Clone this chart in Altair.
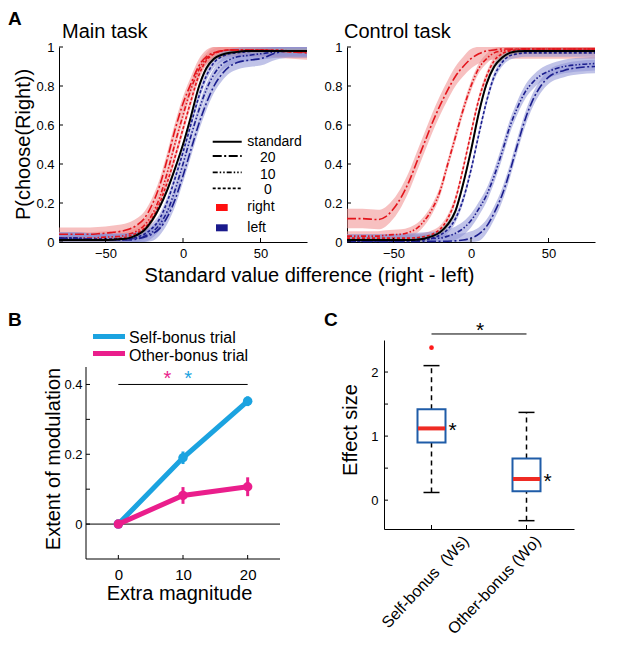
import altair as alt
import pandas as pd

FONT = "Liberation Sans"
RED = "#e3141b"
BLUE = "#1b1e8e"
RED_BAND = "#f08c8c"
BLUE_BAND = "#8c91d6"
GRAY_BAND = "#a0a0a0"
CYAN = "#1ba3e0"
MAGENTA = "#ea1e8c"
BOX_BLUE = "#1f5ca8"
MED_RED = "#ef2b24"

# ---------------- Panel A data ----------------
X = [-80, -70, -60, -55, -50, -45, -40, -35, -30, -25, -20, -15, -10, -5, 0,
     5, 10, 15, 20, 25, 30, 35, 40, 45, 50, 60, 70, 80]

main_standard = [0.01, 0.01, 0.01, 0.01, 0.01, 0.012, 0.015, 0.02, 0.035, 0.06, 0.11, 0.18, 0.27, 0.38,
                 0.50, 0.64, 0.79, 0.89, 0.94, 0.96, 0.97, 0.975, 0.98, 0.98, 0.98, 0.98, 0.98, 0.98]
main_right_20 = [0.04, 0.04, 0.04, 0.042, 0.045, 0.05, 0.055, 0.065, 0.085, 0.12, 0.19, 0.29, 0.43, 0.58,
                 0.71, 0.81, 0.90, 0.95, 0.97, 0.98, 0.985, 0.985, 0.985, 0.985, 0.985, 0.98, 0.975, 0.97]
main_right_10 = [0.02, 0.02, 0.02, 0.022, 0.025, 0.027, 0.03, 0.04, 0.055, 0.085, 0.14, 0.23, 0.36, 0.51,
                 0.65, 0.78, 0.88, 0.94, 0.97, 0.98, 0.985, 0.985, 0.985, 0.985, 0.985, 0.98, 0.975, 0.975]
main_right_0 = [0.015, 0.015, 0.015, 0.015, 0.015, 0.017, 0.02, 0.03, 0.045, 0.07, 0.12, 0.20, 0.31, 0.44,
                0.58, 0.72, 0.85, 0.93, 0.965, 0.98, 0.985, 0.985, 0.985, 0.985, 0.985, 0.985, 0.98, 0.98]
main_left_0 = [0.02, 0.02, 0.015, 0.015, 0.015, 0.015, 0.015, 0.015, 0.025, 0.04, 0.07, 0.12, 0.21, 0.33,
               0.46, 0.60, 0.74, 0.85, 0.92, 0.95, 0.965, 0.97, 0.975, 0.978, 0.98, 0.98, 0.98, 0.98]
main_left_10 = [0.02, 0.02, 0.015, 0.012, 0.01, 0.01, 0.01, 0.015, 0.02, 0.03, 0.05, 0.09, 0.16, 0.27,
                0.40, 0.54, 0.67, 0.78, 0.86, 0.91, 0.935, 0.95, 0.955, 0.96, 0.965, 0.975, 0.98, 0.98]
main_left_20 = [0.015, 0.015, 0.01, 0.01, 0.01, 0.01, 0.01, 0.01, 0.015, 0.025, 0.04, 0.07, 0.13, 0.22,
                0.34, 0.47, 0.60, 0.71, 0.80, 0.86, 0.90, 0.92, 0.93, 0.935, 0.94, 0.97, 0.98, 0.98]

ctrl_standard = [0.01, 0.01, 0.01, 0.01, 0.01, 0.01, 0.01, 0.012, 0.018, 0.03, 0.05, 0.09, 0.16, 0.30,
                 0.47, 0.66, 0.81, 0.90, 0.945, 0.97, 0.978, 0.98, 0.98, 0.98, 0.98, 0.98, 0.98, 0.98]
ctrl_right_20 = [0.12, 0.12, 0.115, 0.13, 0.17, 0.23, 0.31, 0.41, 0.51, 0.61, 0.70, 0.78, 0.85, 0.90,
                 0.94, 0.965, 0.98, 0.985, 0.99, 0.99, 0.99, 0.99, 0.99, 0.99, 0.99, 0.99, 0.99, 0.99]
ctrl_right_10 = [0.03, 0.03, 0.03, 0.035, 0.038, 0.04, 0.05, 0.07, 0.11, 0.17, 0.26, 0.40, 0.54, 0.68,
                 0.80, 0.89, 0.94, 0.97, 0.98, 0.985, 0.99, 0.99, 0.99, 0.99, 0.99, 0.99, 0.99, 0.99]
ctrl_right_0 = [0.02, 0.02, 0.02, 0.02, 0.02, 0.02, 0.02, 0.022, 0.028, 0.04, 0.065, 0.12, 0.22, 0.38,
                0.56, 0.73, 0.85, 0.93, 0.965, 0.98, 0.985, 0.99, 0.99, 0.99, 0.99, 0.99, 0.99, 0.99]
ctrl_left_0 = [0.005, 0.005, 0.005, 0.005, 0.005, 0.005, 0.006, 0.008, 0.012, 0.02, 0.035, 0.065, 0.12, 0.22,
               0.37, 0.55, 0.72, 0.85, 0.92, 0.955, 0.965, 0.97, 0.97, 0.97, 0.97, 0.97, 0.97, 0.97]
ctrl_left_10 = [0.005, 0.005, 0.005, 0.005, 0.006, 0.008, 0.01, 0.012, 0.015, 0.018, 0.02, 0.03, 0.045, 0.07,
                0.11, 0.17, 0.24, 0.34, 0.46, 0.59, 0.69, 0.77, 0.82, 0.855, 0.875, 0.90, 0.91, 0.915]
ctrl_left_20 = [0.003, 0.003, 0.003, 0.003, 0.003, 0.003, 0.003, 0.003, 0.003, 0.003, 0.003, 0.004, 0.006, 0.01,
                0.02, 0.04, 0.08, 0.15, 0.24, 0.36, 0.50, 0.63, 0.73, 0.80, 0.845, 0.88, 0.895, 0.90]

# half-width of the shaded confidence band of every curve
main_band = {"standard": 0.012, "right20": 0.035, "right10": 0.03, "right0": 0.025,
             "left0": 0.025, "left10": 0.03, "left20": 0.035}
ctrl_band = {"standard": 0.015, "right20": 0.05, "right10": 0.025, "right0": 0.02,
             "left0": 0.02, "left10": 0.035, "left20": 0.035}

A_YTICKS = [0, 0.2, 0.4, 0.6, 0.8, 1]
A_XTICKS = [-50, 0, 50]
DASH_DOMAIN = ["standard", "20", "10", "0"]
DASH_RANGE = [[1, 0], [9, 2.5, 2, 2.5], [5, 2, 1.5, 2, 1.5, 2], [3, 2]]
LEGEND_LABELS = ["standard", "20", "10", "0"]

# ---------------- Panel B data ----------------
MAG = [0, 10, 20]
B_XRANGE = [-5, 25]
B_YRANGE = [-0.1, 0.45]
TRIALS = ["Self-bonus trial", "Other-bonus trial"]
self_mean = [0.0, 0.19, 0.352]
self_err = [0.008, 0.018, 0.014]
other_mean = [0.0, 0.082, 0.107]
other_err = [0.01, 0.024, 0.027]
B_STAR_X = [7.6, 10.8]
B_YTICKS = [0, 0.1, 0.2, 0.3, 0.4]

# ---------------- Panel C data ----------------
CATS = ["Self-bonus\u00a0 (Ws)", "Other-bonus (Wo)"]
c_q1 = [0.90, 0.14]
c_q3 = [1.42, 0.65]
c_med = [1.12, 0.33]
c_wlo = [0.12, -0.32]
c_whi = [2.10, 1.37]
c_outlier = [2.38]
C_YTICKS = [0, 0.5, 1, 1.5, 2]


def txt(s, x, y, size, weight="normal", align="left", baseline="alphabetic",
        angle=0, color="black"):
    kw = dict(align=align, baseline=baseline, fontSize=size, fontWeight=weight,
              color=color, font=FONT)
    if angle:
        kw["angle"] = angle
    return alt.Chart(pd.DataFrame({"t": [s]})).mark_text(**kw).encode(
        text="t:N", x=alt.value(x), y=alt.value(y))


def curve_frame(curves, bands):
    rows = []
    for side, bonus, vals in curves:
        key = side + bonus
        hw = bands[key]
        for x, v in zip(X, vals):
            rows.append({"x": x, "p": v, "lo": max(v - hw, 0.0), "hi": min(v + hw, 1.0),
                         "side": side, "bonus": bonus, "curve": key})
    return pd.DataFrame(rows)


AW, AH = 248, 195


def panel_a(df, title, title_x, legend):
    xs = alt.Scale(domain=[-80, 80], nice=False, zero=False)
    ys = alt.Scale(domain=[0, 1], nice=False, zero=False, clamp=True)
    xax = alt.Axis(values=A_XTICKS, title=None, grid=False, ticks=False, tickSize=0,
                   labelFontSize=13, labelPadding=5)
    yax = alt.Axis(values=A_YTICKS, format="~g", title=None, grid=False, ticks=False,
                   tickSize=0, labelFontSize=13, labelPadding=5)

    def X_(f):
        return alt.X(f, scale=xs, axis=xax, title=None)

    def Y_(f, **kw):
        return alt.Y(f, scale=ys, axis=yax, title=None, **kw)

    colored = df[df.side != "standard"]
    std = df[df.side == "standard"]
    bands = alt.Chart(df).mark_area(interpolate="monotone", fillOpacity=0.55).encode(
        x=X_("x:Q"), y=Y_("lo:Q", stack=None), y2="hi:Q",
        fill=alt.Fill("side:N", scale=alt.Scale(domain=["right", "left", "standard"],
                                                range=[RED_BAND, BLUE_BAND, GRAY_BAND]), legend=None),
        detail="curve:N")
    lines = alt.Chart(colored).mark_line(interpolate="monotone", strokeWidth=1.6).encode(
        x=X_("x:Q"), y=Y_("p:Q"),
        stroke=alt.Stroke("side:N", scale=alt.Scale(domain=["right", "left"], range=[RED, BLUE]),
                          legend=None),
        strokeDash=alt.StrokeDash("bonus:N", scale=alt.Scale(domain=DASH_DOMAIN, range=DASH_RANGE),
                                  legend=None),
        detail="curve:N")
    stdline = alt.Chart(std).mark_line(interpolate="monotone", strokeWidth=2, color="black").encode(
        x=X_("x:Q"), y=Y_("p:Q"))
    yt = alt.Chart(pd.DataFrame({"v": A_YTICKS})).mark_rule(color="black").encode(
        y=Y_("v:Q"), x=alt.value(0), x2=alt.value(4))
    xt = alt.Chart(pd.DataFrame({"v": A_XTICKS})).mark_rule(color="black").encode(
        x=X_("v:Q"), y=alt.value(AH), y2=alt.value(AH - 4))
    layers = [bands, lines, stdline, yt, xt, txt(title, title_x, -9, 20)]
    if legend:
        layers.append(txt("A", -51, -22, 19, weight="bold"))
        layers.append(txt("P(choose(Right))", -29, AH / 2, 20, align="center", angle=270))
        line_y = [94.7, 109, 125.3, 141.3]
        text_y = [98.7, 115.3, 132, 147.3]
        for lab, dash, ly, ty in zip(LEGEND_LABELS, DASH_RANGE, line_y, text_y):
            layers.append(alt.Chart(pd.DataFrame({"k": [lab]})).mark_rule(
                color="black", strokeWidth=2 if lab == "standard" else 1.8, strokeDash=dash).encode(
                x=alt.value(153.7), x2=alt.value(182.7), y=alt.value(ly)))
            if lab == "standard":
                layers.append(txt(lab, 188.3, ty, 14))
            else:
                layers.append(txt(lab, 208.8, ty, 14, align="center"))
        for lab, col, y0, ty in [("right", "#ff1010", 157, 164), ("left", "#1a1a8c", 177.3, 184.7)]:
            layers.append(alt.Chart(pd.DataFrame({"k": [lab]})).mark_rect(color=col).encode(
                x=alt.value(157), x2=alt.value(168.7), y=alt.value(y0), y2=alt.value(y0 + 7)))
            layers.append(txt(lab, 188.3, ty, 14))
    return alt.layer(*layers).properties(width=AW, height=AH)


main_df = curve_frame([
    ("right", "20", main_right_20), ("right", "10", main_right_10), ("right", "0", main_right_0),
    ("left", "0", main_left_0), ("left", "10", main_left_10), ("left", "20", main_left_20),
    ("standard", "", main_standard)], main_band)
ctrl_df = curve_frame([
    ("right", "20", ctrl_right_20), ("right", "10", ctrl_right_10), ("right", "0", ctrl_right_0),
    ("left", "0", ctrl_left_0), ("left", "10", ctrl_left_10), ("left", "20", ctrl_left_20),
    ("standard", "", ctrl_standard)], ctrl_band)

A1 = panel_a(main_df, "Main task", 3, True)
A2 = panel_a(ctrl_df, "Control task", -3, False)
row1 = alt.concat(A1, A2, columns=2, spacing=12)

# shared x-axis title of panel A, in a thin row of its own
title_row = alt.layer(
    txt("Standard value difference (right - left)", 250.5, 22, 20, align="center")
).properties(width=2, height=51)

# ---------------- Panel B ----------------
# the view is widened 27 px to the left and 27 px upward so that the panels line up
# like in the figure; the drawn axis lines cover only the figure's data range
PADL, PADT = 27, 27
BW0, BH0 = 194, 192
BW, BH = BW0 + PADL, BH0 + PADT
bpx = BW0 / (B_XRANGE[1] - B_XRANGE[0])
bpy = BH0 / (B_YRANGE[1] - B_YRANGE[0])
bxs = alt.Scale(domain=[B_XRANGE[0] - PADL / bpx, B_XRANGE[1]], nice=False, zero=False)
bys = alt.Scale(domain=[B_YRANGE[0], B_YRANGE[1] + PADT / bpy], nice=False, zero=False)
bxax = alt.Axis(values=MAG, title=None, grid=False, ticks=False, tickSize=0, domain=False,
                labelFontSize=15, labelPadding=8)
byax = alt.Axis(values=[0, 0.2, 0.4], format="~g", title=None, grid=False, ticks=False,
                tickSize=0, domain=False, labelFontSize=13, labelPadding=4, offset=-PADL)


def BX(f):
    return alt.X(f, scale=bxs, axis=bxax, title=None)


def BY(f):
    return alt.Y(f, scale=bys, axis=byax, title=None)


b_layers = []
# axis lines
b_layers.append(alt.Chart(pd.DataFrame({"x": [B_XRANGE[0]], "y": [B_YRANGE[0]], "y2": [B_YRANGE[1]]}))
                .mark_rule(color="black", strokeWidth=1).encode(x=BX("x:Q"), y=BY("y:Q"), y2="y2:Q"))
b_layers.append(alt.Chart(pd.DataFrame({"x": [B_XRANGE[0]], "x2": [B_XRANGE[1]], "y": [B_YRANGE[0]]}))
                .mark_rule(color="black", strokeWidth=1).encode(x=BX("x:Q"), x2="x2:Q", y=BY("y:Q")))
# zero line
b_layers.append(alt.Chart(pd.DataFrame({"x": [B_XRANGE[0]], "x2": [B_XRANGE[1]], "y": [0]}))
                .mark_rule(color="black", strokeWidth=1).encode(x=BX("x:Q"), x2="x2:Q", y=BY("y:Q")))
# significance bar
b_layers.append(alt.Chart(pd.DataFrame({"x": [MAG[0]], "x2": [MAG[-1]], "y": [0.4]})).mark_rule(
    color="black", strokeWidth=1).encode(x=BX("x:Q"), x2="x2:Q", y=BY("y:Q")))
for name, col, mean, err in [(TRIALS[0], CYAN, self_mean, self_err),
                             (TRIALS[1], MAGENTA, other_mean, other_err)]:
    d = pd.DataFrame({"mag": MAG, "m": mean, "lo": [m - e for m, e in zip(mean, err)],
                      "hi": [m + e for m, e in zip(mean, err)]})
    b_layers.append(alt.Chart(d).mark_line(color=col, strokeWidth=5).encode(
        x=BX("mag:Q"), y=BY("m:Q")))
    b_layers.append(alt.Chart(d).mark_rule(color=col, strokeWidth=3).encode(
        x=BX("mag:Q"), y=BY("lo:Q"), y2="hi:Q"))
    b_layers.append(alt.Chart(d).mark_circle(color=col, size=90, opacity=1).encode(
        x=BX("mag:Q"), y=BY("m:Q")))
for sx, col in zip(B_STAR_X, [MAGENTA, CYAN]):
    b_layers.append(alt.Chart(pd.DataFrame({"x": [sx], "y": [0.4], "t": ["*"]})).mark_text(
        color=col, fontSize=20, font=FONT, baseline="alphabetic", dy=1).encode(
        x=BX("x:Q"), y=BY("y:Q"), text="t:N"))
b_layers.append(alt.Chart(pd.DataFrame({"v": B_YTICKS})).mark_rule(color="black").encode(
    y=BY("v:Q"), x=alt.value(PADL), x2=alt.value(PADL + 4)))
b_layers.append(alt.Chart(pd.DataFrame({"v": MAG})).mark_rule(color="black").encode(
    x=BX("v:Q"), y=alt.value(BH), y2=alt.value(BH - 4)))
b_layers.append(txt("B", -51, -14, 19, weight="bold"))
for name, col, ly, ty in [(TRIALS[0], CYAN, -3.5, 2.5), (TRIALS[1], MAGENTA, 13.5, 20.5)]:
    b_layers.append(alt.Chart(pd.DataFrame({"k": [name]})).mark_rule(color=col, strokeWidth=5).encode(
        x=alt.value(34), x2=alt.value(66), y=alt.value(ly)))
    b_layers.append(txt(name, 70, ty, 16))
b_layers.append(txt("Extent of modulation", 1, 119, 20, align="center", angle=270))
b_layers.append(txt("Extra magnitude", 120.5, 260, 20, align="center"))
B = alt.layer(*b_layers).properties(width=BW, height=BH)

# ---------------- Panel C ----------------
CW, CH = 190, 189
cxs = alt.Scale(type="point", domain=CATS, padding=0.5)
cys = alt.Scale(domain=[-0.45, 2.5], nice=False, zero=False)
cxax = alt.Axis(title=None, grid=False, ticks=False, tickSize=0, labelAngle=-47,
                labelAlign="right", labelBaseline="middle", labelPadding=9, labelFontSize=16,
                labelOffset={"condition": {"test": "indexof(datum.value, 'Self') === 0", "value": 34},
                             "value": 11})
cyax = alt.Axis(values=[0, 1, 2], title=None, grid=False, ticks=False, tickSize=0,
                labelFontSize=13, labelPadding=6)


def CX():
    return alt.X("cat:N", scale=cxs, axis=cxax, sort=CATS, title=None)


def CY(f):
    return alt.Y(f, scale=cys, axis=cyax, title=None)


cdf = pd.DataFrame({"cat": CATS, "q1": c_q1, "q3": c_q3, "med": c_med, "wlo": c_wlo, "whi": c_whi})

c_layers = []
c_layers.append(alt.Chart(cdf).mark_rule(color="black", strokeWidth=1.5, strokeDash=[5, 4]).encode(
    x=CX(), y=CY("q3:Q"), y2="whi:Q"))
c_layers.append(alt.Chart(cdf).mark_rule(color="black", strokeWidth=1.5, strokeDash=[5, 4]).encode(
    x=CX(), y=CY("wlo:Q"), y2="q1:Q"))
c_layers.append(alt.Chart(cdf).mark_tick(color="black", size=16, thickness=1.5, opacity=1).encode(
    x=CX(), y=CY("whi:Q")))
c_layers.append(alt.Chart(cdf).mark_tick(color="black", size=16, thickness=1.5, opacity=1).encode(
    x=CX(), y=CY("wlo:Q")))
c_layers.append(alt.Chart(cdf).mark_bar(size=28, fill="white", stroke=BOX_BLUE, strokeWidth=2,
                                        opacity=1).encode(
    x=CX(), y=CY("q1:Q"), y2="q3:Q"))
c_layers.append(alt.Chart(cdf).mark_tick(color=MED_RED, size=27, thickness=4, opacity=1).encode(
    x=CX(), y=CY("med:Q")))
c_layers.append(alt.Chart(pd.DataFrame({"cat": [CATS[0]], "v": c_outlier})).mark_circle(
    color="#ff1a1a", size=22, opacity=1).encode(x=CX(), y=CY("v:Q")))
c_layers.append(alt.Chart(cdf.assign(t="*")).mark_text(
    fontSize=21, font=FONT, color="black", baseline="alphabetic", dx=21, dy=9).encode(
    x=CX(), y=CY("med:Q"), text="t:N"))
c_layers.append(alt.Chart(pd.DataFrame({"cat": CATS, "y": [2.594, 2.594]})).mark_line(
    color="black", strokeWidth=1).encode(x=CX(), y=CY("y:Q")))
c_layers.append(txt("*", CW / 2 + 1, -3, 21, align="center"))
c_layers.append(alt.Chart(pd.DataFrame({"v": C_YTICKS})).mark_rule(color="black").encode(
    y=CY("v:Q"), x=alt.value(0), x2=alt.value(4)))
c_layers.append(alt.Chart(pd.DataFrame({"cat": CATS})).mark_rule(color="black").encode(
    x=CX(), y=alt.value(CH), y2=alt.value(CH - 4)))
c_layers.append(txt("C", -60, -14, 19, weight="bold"))
c_layers.append(txt("Effect size", -27, 90, 20, align="center", angle=270))
C = alt.layer(*c_layers).properties(width=CW, height=CH)

row2 = alt.concat(B, C, columns=2, spacing=43)

chart = alt.concat(row1, title_row, row2, columns=1, spacing=0).properties(
    padding={"left": 0, "top": 2, "right": 0, "bottom": 0})
chart = chart.configure(font=FONT).configure_view(stroke=None).configure_axis(
    domainColor="black", domainWidth=1, labelColor="black", labelFont=FONT, grid=False)

chart.save("out.html", embed_options={"renderer": "svg", "actions": False})
